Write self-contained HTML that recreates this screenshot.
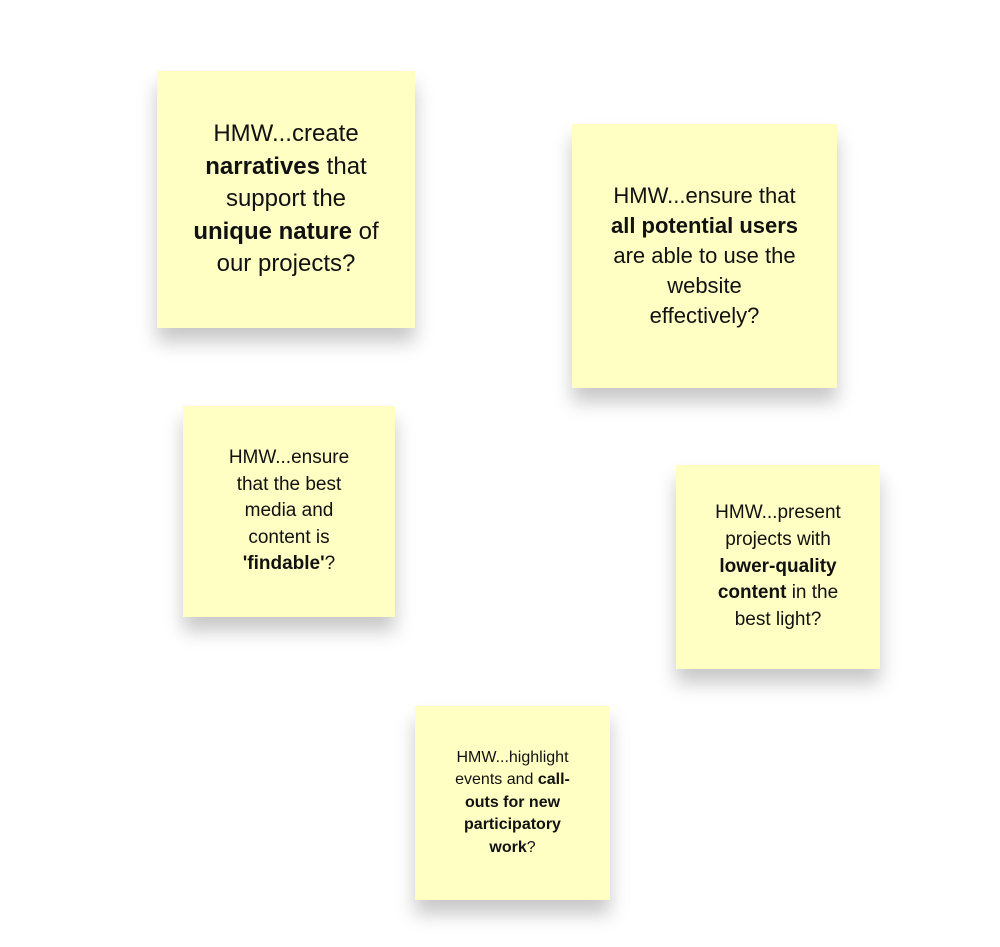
<!DOCTYPE html>
<html><head><meta charset="utf-8"><style>
body{margin:0;width:1000px;height:947px;background:#fff;position:relative;overflow:hidden;font-family:"Liberation Sans",sans-serif;}
.n{position:absolute;background:#ffffc4;display:flex;align-items:center;justify-content:center;text-align:center;color:#111;box-shadow:0 14px 18px rgba(0,0,0,0.22);box-sizing:border-box;}
.n>div{white-space:nowrap}
b{font-weight:bold}
</style></head><body>
<div class="n" style="left:157px;top:71px;width:258px;height:257px;font-size:24px;line-height:32.5px;"><div>HMW...create<br><b>narratives</b> that<br>support the<br><b>unique nature</b> of<br>our projects?</div></div>
<div class="n" style="left:572px;top:124px;width:265px;height:264px;font-size:22px;line-height:30px;"><div>HMW...ensure that<br><b>all potential users</b><br>are able to use the<br>website<br>effectively?</div></div>
<div class="n" style="left:183px;top:406px;width:212px;height:211px;font-size:19px;line-height:26.5px;"><div>HMW...ensure<br>that the best<br>media and<br>content is<br><b>'findable'</b>?</div></div>
<div class="n" style="left:676px;top:465px;width:204px;height:204px;font-size:19px;line-height:26.7px;"><div>HMW...present<br>projects with<br><b>lower-quality</b><br><b>content</b> in the<br>best light?</div></div>
<div class="n" style="left:415px;top:706px;width:195px;height:194px;font-size:16px;line-height:22.5px;"><div>HMW...highlight<br>events and <b>call-</b><br><b>outs for new</b><br><b>participatory</b><br><b>work</b>?</div></div>
</body></html>
